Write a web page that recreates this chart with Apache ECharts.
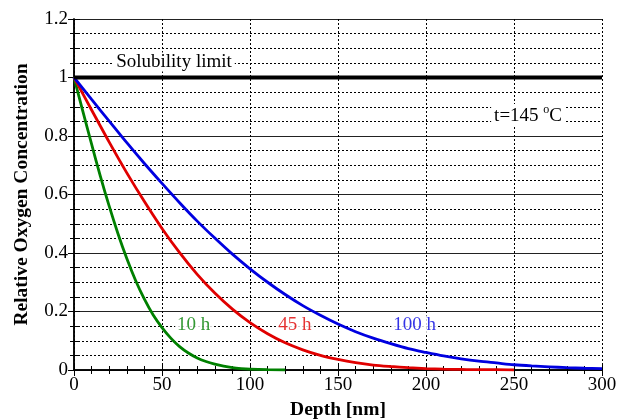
<!DOCTYPE html>
<html><head><meta charset="utf-8">
<script src="https://cdn.jsdelivr.net/npm/echarts@6/dist/echarts.min.js"></script>
<style>html,body{margin:0;padding:0;background:#fff}#c{width:624px;height:419px}</style>
</head><body><div id="c"></div>
<script>
// Depth values [nm] and relative concentration
const depth10 = [0,5,10,15,20,25,30,35,40,45,50,55,60,65,70,75,80,85,90,95,100,110,120];
const conc10  = [1,0.885,0.772,0.662,0.560,0.466,0.381,0.306,0.242,0.188,0.145,0.109,0.080,0.058,0.041,0.029,0.020,0.013,0.008,0.005,0.003,0.001,0];
const depth45 = [0,10,20,30,40,50,60,70,80,90,100,110,120,130,140,150,160,170,180,190,200,210,220,230,240,250];
const conc45  = [1,0.889,0.779,0.674,0.576,0.484,0.401,0.327,0.263,0.208,0.162,0.124,0.093,0.069,0.050,0.036,0.025,0.017,0.012,0.008,0.005,0.003,0.002,0.001,0.001,0];
const depth100 = [0,10,20,30,40,50,60,70,80,90,100,110,120,130,140,150,160,170,180,190,200,210,220,230,240,250,260,270,280,290,300];
const conc100  = [1,0.925,0.851,0.777,0.706,0.638,0.572,0.509,0.451,0.396,0.346,0.300,0.258,0.220,0.187,0.157,0.131,0.109,0.090,0.073,0.060,0.048,0.038,0.030,0.024,0.018,0.014,0.011,0.008,0.006,0.005];
const solubility = [[0,1],[300,1]];
const xTicks = {min:0, max:300, interval:50};
const yTicks = {min:0, max:1.2, interval:0.2};
const labels = [
  {text:'10 h', x:68, y:0.154, color:'#008000'},
  {text:'45 h', x:125.5, y:0.154, color:'#e00000'},
  {text:'100 h', x:193.5, y:0.154, color:'#0000e0'}
];

const FONT = '"Liberation Serif","Times New Roman",serif';
const FS = 19;
const pair = (xs, ys) => xs.map((x,i)=>[x, ys[i]]);
const chart = echarts.init(document.getElementById('c'), null, {renderer:'canvas'});

const baseX = {type:'value', min:xTicks.min, max:xTicks.max, interval:xTicks.interval};
const baseY = {type:'value', min:yTicks.min, max:yTicks.max, interval:yTicks.interval};

chart.setOption({
  animation:false,
  backgroundColor:'#fff',
  grid:{left:74, right:22, top:19, bottom:49, containLabel:false, outerBoundsMode:'none'},
  xAxis:[
    Object.assign({}, baseX, {
      position:'bottom',
      name:'Depth [nm]', nameLocation:'middle', nameGap:23,
      nameTextStyle:{fontFamily:FONT, fontWeight:'bold', fontSize:19.5, color:'#000'},
      axisLine:{show:true, lineStyle:{color:'#000', width:1.5}},
      axisTick:{show:true, inside:true, length:6, lineStyle:{color:'#000'}},
      minorTick:{show:true, splitNumber:5, length:4, lineStyle:{color:'#000'}},
      axisLabel:{fontFamily:FONT, fontSize:FS, color:'#000', margin:6},
      splitLine:{show:true, lineStyle:{color:'#000', type:[2,2], width:1}}
    }),
    Object.assign({}, baseX, {
      position:'top',
      axisLine:{show:true, lineStyle:{color:'#000', width:1.5}},
      axisTick:{show:true, inside:true, length:6, lineStyle:{color:'#000'}},
      minorTick:{show:true, splitNumber:5, length:4, lineStyle:{color:'#000'}},
      axisLabel:{show:false}, splitLine:{show:false}
    })
  ],
  yAxis:[
    Object.assign({}, baseY, {
      position:'left',
      name:'Relative Oxygen Concentration', nameLocation:'middle', nameGap:42,
      nameTextStyle:{fontFamily:FONT, fontWeight:'bold', fontSize:19.5, color:'#000'},
      axisLine:{show:true, lineStyle:{color:'#000', width:1.5}},
      axisTick:{show:true, inside:true, length:6, lineStyle:{color:'#000'}},
      minorTick:{show:true, splitNumber:4, length:4, lineStyle:{color:'#000'}},
      axisLabel:{fontFamily:FONT, fontSize:FS, color:'#000', margin:6,
        formatter:v=>String(Math.round(v*10)/10)},
      splitLine:{show:true, lineStyle:{color:'#222', width:1}},
      minorSplitLine:{show:true, lineStyle:{color:'#000', type:[2,2], width:1}}
    }),
    Object.assign({}, baseY, {
      position:'right',
      axisLine:{show:true, lineStyle:{color:'#000', width:1.5}},
      axisTick:{show:true, inside:true, length:6, lineStyle:{color:'#000'}},
      minorTick:{show:true, splitNumber:4, length:4, lineStyle:{color:'#000'}},
      axisLabel:{show:false}, splitLine:{show:false}
    })
  ],
  series:[
    {type:'line', name:'Solubility limit', data:solubility, symbol:'none', z:5,
      lineStyle:{color:'#000', width:4},
      markPoint:{symbol:'rect', symbolSize:1, itemStyle:{color:'rgba(0,0,0,0)'},
        data:[
          {coord:[56.8,1.053], label:{show:true, formatter:'Solubility limit', position:'inside',
            fontFamily:FONT, fontSize:FS, color:'#000', backgroundColor:'#fff', padding:[0,3]}},
          {coord:[258,0.872], label:{show:true, position:'inside',
            formatter:'{a|t=145 }{s|o}{a|C}',
            backgroundColor:'#fff', padding:[0,3],
            rich:{a:{fontFamily:FONT, fontSize:FS, color:'#000', verticalAlign:'bottom', lineHeight:22},
                  s:{fontFamily:FONT, fontSize:12, color:'#000', verticalAlign:'top', lineHeight:22, padding:[0,0,9,0]}}}}
        ]}
    },
    {type:'line', name:'10 h', data:pair(depth10, conc10), symbol:'none', smooth:0.3, z:4,
      lineStyle:{color:'#008000', width:2.8}},
    {type:'line', name:'45 h', data:pair(depth45, conc45), symbol:'none', smooth:0.3, z:4,
      lineStyle:{color:'#e00000', width:2.8}},
    {type:'line', name:'100 h', data:pair(depth100, conc100), symbol:'none', smooth:0.3, z:4,
      lineStyle:{color:'#0000e0', width:2.8}},
    {type:'scatter', data:labels.map(l=>({value:[l.x,l.y], label:{color:l.color, formatter:l.text}})),
      symbolSize:0, z:6,
      label:{show:true, position:'inside', fontFamily:FONT, fontSize:FS, backgroundColor:'#fff', padding:[0,2]},
      silent:true}
  ]
});
</script></body></html>
